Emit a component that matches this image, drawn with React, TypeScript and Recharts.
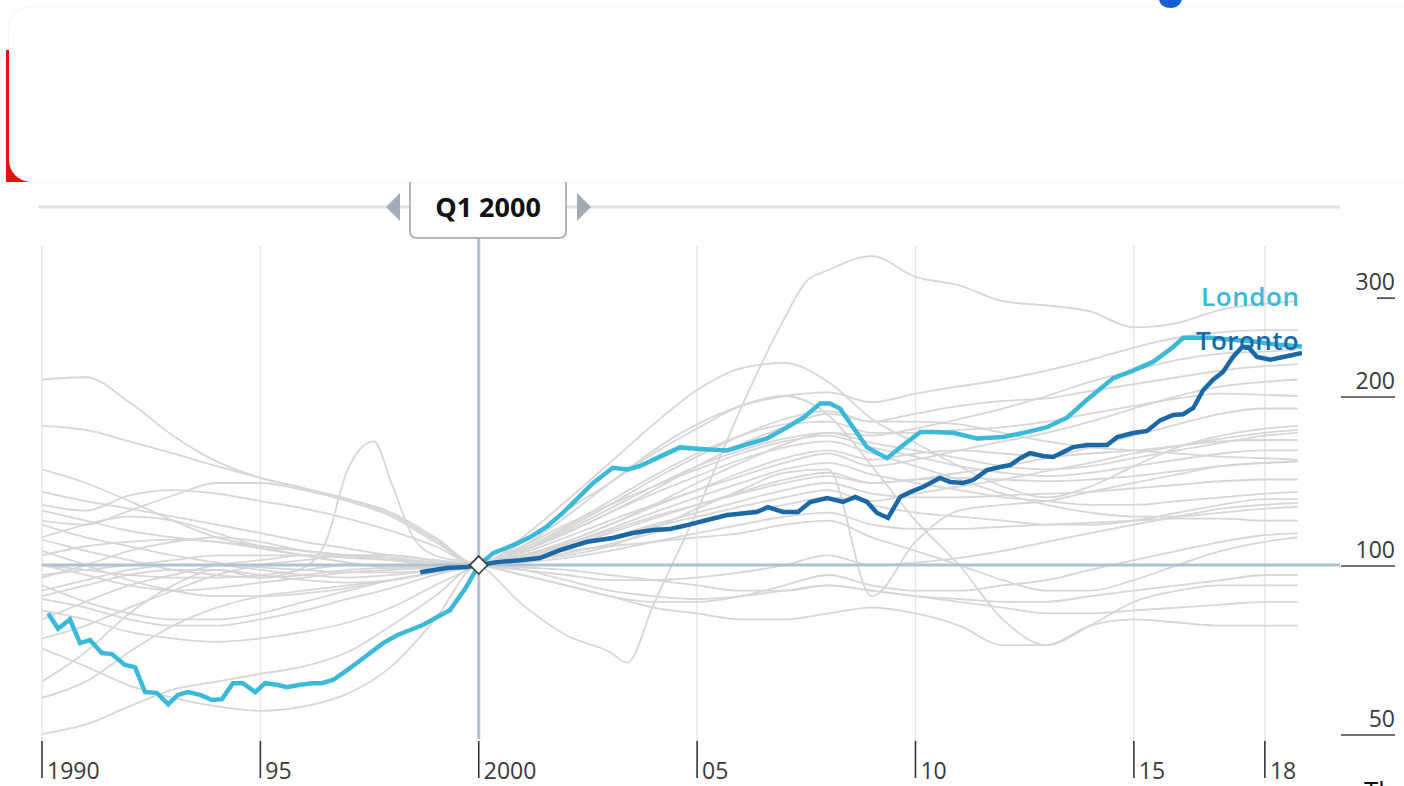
import React from "react";
import { LineChart, Line, XAxis, YAxis, ReferenceLine, ReferenceDot } from "recharts";

// quarterly-ish readings, index 2000 Q1 = 100
const LONDON_YEARS = [
  1990.14, 1990.37, 1990.64, 1990.87, 1991.1, 1991.37, 1991.6, 1991.9, 1992.13, 1992.36,
  1992.63, 1992.89, 1993.11, 1993.34, 1993.62, 1993.89, 1994.12, 1994.37, 1994.6, 1994.88,
  1995.11, 1995.38, 1995.61, 1995.91, 1996.18, 1996.41, 1996.66, 1996.89, 1997.21, 1997.51,
  1997.81, 1998.13, 1998.43, 1998.72, 1999.05, 1999.34, 1999.7, 2000, 2000.33, 2000.79,
  2001.17, 2001.56, 2001.93, 2002.16, 2002.62, 2003.07, 2003.4, 2003.69, 2004.15, 2004.61,
  2005.07, 2005.69, 2006.14, 2006.6, 2007.06, 2007.43, 2007.82, 2008.04, 2008.27, 2008.57,
  2008.89, 2009.35, 2009.65, 2010.11, 2010.4, 2010.86, 2011.41, 2012.01, 2012.55, 2013.01,
  2013.47, 2013.93, 2014.52, 2014.98, 2015.44, 2015.9, 2016.13, 2016.36, 2016.75, 2017.25,
  2017.75, 2018.25, 2018.85,
];
const LONDON = [
  82, 77, 80, 72.6, 73.5, 69.7, 69.4, 66.4, 65.8, 59.4,
  59.2, 56.5, 58.7, 59.4, 58.7, 57.5, 57.7, 61.6, 61.6, 59.4,
  61.6, 61.2, 60.6, 61.2, 61.6, 61.6, 62.4, 64.2, 66.9, 69.7,
  72.6, 75, 76.6, 78.2, 80.8, 83.1, 91, 100, 105, 108.5,
  112, 117, 124, 129, 140, 149, 148, 150, 156, 162,
  161, 160, 164, 168, 176, 183, 194, 194, 190, 176,
  162, 155, 162, 172.5, 172.5, 172, 168, 169, 172.5, 176,
  183, 197, 215, 222, 230, 244.5, 254, 254, 254, 252,
  250, 247, 245,
];

const TORONTO_YEARS = [
  1998.66, 1999.27, 1999.73, 2000, 2000.42, 2000.95, 2001.4, 2001.86, 2002.48, 2003.07,
  2003.53, 2003.99, 2004.38, 2004.77, 2005.23, 2005.69, 2006.14, 2006.37, 2006.62, 2006.97,
  2007.31, 2007.59, 2007.98, 2008.34, 2008.62, 2008.89, 2009.12, 2009.37, 2009.65, 2009.88,
  2010.17, 2010.56, 2010.79, 2011.09, 2011.32, 2011.64, 2011.94, 2012.17, 2012.4, 2012.62,
  2012.92, 2013.15, 2013.38, 2013.61, 2013.93, 2014.39, 2014.62, 2014.98, 2015.3, 2015.6,
  2015.9, 2016.13, 2016.36, 2016.59, 2016.82, 2017.04, 2017.27, 2017.48, 2017.62, 2017.82,
  2018.12, 2018.42, 2018.85,
];
const TORONTO = [
  97.1, 98.8, 99.2, 100, 101.2, 102, 102.9, 106.3, 110, 111.7,
  114, 115.4, 115.9, 117.8, 120.3, 122.8, 123.8, 124.3, 126.8, 124.3,
  124.3, 129.5, 131.6, 129.5, 132.2, 129.5, 123.8, 121.3, 132.2, 134.9,
  137.7, 142.9, 140.6, 140, 141.7, 147.6, 149.5, 150.7, 155, 158.3,
  156.4, 155.8, 158.9, 162.2, 163.6, 163.6, 169, 171.8, 173.3, 181,
  185, 185.6, 190.4, 205, 214, 220.7, 234.7, 244.5, 244.5, 234.7,
  232, 234.7, 238.6,
];

// the other cities, sampled yearly
const GREY_YEARS = [
  1990, 1991, 1992, 1993, 1994, 1995, 1996, 1997, 1998, 1999,
  2000, 2001, 2002, 2003, 2004, 2005, 2006, 2007, 2008, 2009,
  2010, 2011, 2012, 2013, 2014, 2015, 2016, 2017, 2018, 2018.75,
];
const GREY_A = [214,216,195,170,153,143,137,131,124,112,100,112,130,152,178,205,224,229,212,182,165,150,138,132,138,150,162,170,175,177];
const GREY_B = [177,174,166,158,150,143,137,131,123,111,100,108,122,140,160,178,192,200,203,195,202,208,214,222,232,244,254,260,262,262];
const GREY_C = [148,140,130,120,112,108,106,104,103,101,100,106,116,128,142,156,170,182,188,180,186,192,196,198,204,210,216,222,226,228];
const GREY_D = [128,125,133,136,134,130,126,121,115,108,100,104,110,118,127,136,146,155,160,154,158,160,158,156,158,160,163,166,167,167];
const GREY_E = [120,118,125,133,140,140,136,130,122,110,100,103,108,114,121,128,135,142,146,140,142,143,142,141,142,144,147,150,152,153];
const GREY_F = [111,106,102,98,96,95,96,98,99,100,100,106,114,124,136,150,164,176,186,180,180,178,172,166,162,160,158,156,155,154];
const GREY_G = [106,100,94,90,88,88,89,91,94,97,100,105,112,120,128,136,144,152,158,150,154,160,166,172,180,190,200,208,212,214];
const GREY_H = [100,96,92,90,91,93,95,97,98,99,100,102,105,109,114,119,124,128,132,130,134,138,142,147,152,158,163,168,172,174];
const GREY_I = [96,98,100,102,104,104,104,103,102,101,100,104,110,118,128,140,152,164,172,165,160,155,150,148,150,155,160,165,170,172];
const GREY_J = [92,86,82,80,80,82,86,90,94,97,100,106,114,124,134,144,154,162,166,158,150,142,134,128,124,122,122,124,126,127];
const GREY_K = [88,92,96,98,98,96,94,93,94,97,100,104,109,116,124,132,140,148,152,145,140,136,132,130,128,128,130,132,134,135];
const GREY_L = [87,84,80,78,78,80,83,87,91,96,100,104,108,112,117,122,127,132,136,128,124,122,120,118,118,120,124,128,131,131];
const GREY_M = [83,80,76,74,73,74,76,79,84,92,100,108,118,128,138,148,158,166,170,162,156,150,146,144,146,150,154,158,160,160];
const GREY_N = [80,86,92,96,100,102,104,104,104,102,100,98,96,94,94,95,97,100,104,100,101,103,106,110,114,118,122,126,128,129];
const GREY_O = [74,78,84,90,96,100,102,104,104,102,100,96,92,88,86,86,88,92,96,92,90,90,92,94,98,102,106,110,113,114];
const GREY_P = [71,66,61,58,56,55,56,59,66,80,100,98,94,90,88,87,88,90,92,90,88,86,84,82,82,83,84,85,86,86];
const GREY_Q = [58,62,70,78,84,88,90,92,94,97,100,103,106,108,110,112,114,118,120,112,106,100,94,90,90,94,100,106,110,112];
const GREY_R = [50,52,56,60,62,64,66,70,78,88,100,96,92,88,84,82,80,80,82,84,82,78,72,72,78,80,79,78,78,78];
const GREY_S = [95,100,106,110,112,110,106,104,102,100,100,102,104,108,116,126,136,146,148,88,110,125,128,130,135,140,145,150,152,153];
const GREY_T = [100,98,96,95,95,96,98,100,100,100,100,110,125,140,158,175,192,200,185,150,120,100,80,72,78,86,90,92,92,92];
const GREY_U = [125,120,115,112,110,108,106,104,102,101,100,99,98,96,94,92,90,90,92,90,88,87,86,86,88,90,92,94,96,96];
const GREY_V = [118,112,108,104,101,99,98,97,97,98,100,106,115,126,138,150,160,168,172,170,175,182,190,200,212,222,232,238,240,242];
const GREY_W = [135,130,126,122,118,114,110,107,104,102,100,107,117,130,144,158,170,178,180,172,172,174,176,180,186,192,198,202,201,200];
const GREY_X = [90,94,98,100,100,98,96,95,96,98,100,104,109,115,122,128,134,140,144,140,142,146,150,155,162,170,178,186,190,190];
const GREY_Y = [104,108,110,111,110,107,104,101,99,99,100,103,107,112,118,124,130,136,140,134,132,132,133,134,135,137,139,141,142,142];
const GREY_Z = [112,118,122,120,114,108,104,101,99,99,100,101,103,106,110,114,118,122,124,118,116,116,117,118,119,120,121,121,120,120];

// the one with the 1997 spike and the 2007 surge has its own dates
const SPIKE_YEARS = [
  1990, 1991, 1992, 1993, 1994, 1995, 1996, 1996.5, 1997, 1997.6, 1998, 1998.5, 1999, 2000,
  2001, 2002, 2003, 2003.4, 2004, 2005, 2006, 2007, 2007.5, 2008, 2009, 2010, 2011, 2012,
  2013, 2014, 2015, 2016, 2017, 2018, 2018.75,
];
const SPIKE = [
  62, 70, 82, 92, 98, 95, 99, 110, 148, 166, 140, 112, 104, 100,
  85, 75, 70, 67, 85, 125, 190, 275, 320, 335, 355, 326, 315, 295,
  290, 283, 265, 270, 285, 292, 295,
];

const GREY_LINES = [
  GREY_A, GREY_B, GREY_C, GREY_D, GREY_E, GREY_F, GREY_G, GREY_H, GREY_I, GREY_J, GREY_K, GREY_L, GREY_M,
  GREY_N, GREY_O, GREY_P, GREY_Q, GREY_R, GREY_S, GREY_T, GREY_U, GREY_V, GREY_W, GREY_X, GREY_Y, GREY_Z,
];

const X_TICKS = [1990, 1995, 2000, 2005, 2010, 2015, 2018];
const X_LABELS = ["1990", "95", "2000", "05", "10", "15", "18"];
const Y_TICKS = [50, 100, 200, 300];

const FONT = "'Open Sans', 'DejaVu Sans', sans-serif";
const GREY = "#d6d6d6";
const LONDON_COL = "#3cb9d6";
const TORONTO_COL = "#1a68a6";
const AXIS_BLUE = "#b2c2d2";
const TEXT_COL = "#3a3a3a";

const toPoints = (xs: number[], ys: number[]) => xs.map((x, i) => ({ x, y: ys[i] }));

const XTick = (props: any) => {
  const { x, payload } = props;
  const label = X_LABELS[X_TICKS.indexOf(payload.value)];
  return (
    <g>
      <line x1={x} x2={x} y1={741} y2={778} stroke="#333" strokeWidth={1.6} />
      <text x={x + 5} y={779} fontSize={23} fill={TEXT_COL} fontFamily={FONT}>
        {label}
      </text>
    </g>
  );
};

const YTick = (props: any) => {
  const { y, payload } = props;
  const short = payload.value === 300;
  return (
    <g>
      <text x={1395} y={y - 7} textAnchor="end" fontSize={23} fill={TEXT_COL} fontFamily={FONT}>
        {payload.value}
      </text>
      <line x1={short ? 1377 : 1341} x2={1395} y1={y + 1} y2={y + 1} stroke="#444" strokeWidth={1.6} />
    </g>
  );
};

const Diamond = (props: any) => {
  const { cx, cy } = props;
  const r = 9;
  return (
    <path
      d={`M${cx},${cy - r} L${cx + r},${cy} L${cx},${cy + r} L${cx - r},${cy} Z`}
      fill="#fff"
      stroke="#444"
      strokeWidth={1.8}
    />
  );
};

export default function App() {
  return (
    <div style={{ position: "absolute", left: 0, top: 0, width: 1404, height: 786, background: "#fff", overflow: "hidden" }}>
      <div style={{ position: "absolute", left: 0, top: 0 }}>
        <LineChart width={1404} height={786} margin={{ top: 246, right: 2, bottom: 0, left: 42 }}>
          <XAxis
            type="number"
            dataKey="x"
            domain={[1990, 2018.85]}
            ticks={X_TICKS}
            interval={0}
            height={42}
            axisLine={false}
            tickLine={false}
            tick={<XTick />}
            allowDataOverflow
          />
          <YAxis
            type="number"
            dataKey="y"
            scale="log"
            domain={[48, 370]}
            ticks={Y_TICKS}
            interval={0}
            orientation="right"
            width={100}
            axisLine={false}
            tickLine={false}
            tick={<YTick />}
            allowDataOverflow
          />
          {X_TICKS.filter((t) => t !== 2000).map((t) => (
            <ReferenceLine key={t} x={t} stroke="#e6e6e6" strokeWidth={1.5} />
          ))}
          {GREY_LINES.map((vals, i) => (
            <Line
              key={i}
              data={toPoints(GREY_YEARS, vals)}
              dataKey="y"
              type="monotone"
              stroke={GREY}
              strokeWidth={1.8}
              dot={false}
              isAnimationActive={false}
            />
          ))}
          <Line
            data={toPoints(SPIKE_YEARS, SPIKE)}
            dataKey="y"
            type="monotone"
            stroke={GREY}
            strokeWidth={1.8}
            dot={false}
            isAnimationActive={false}
          />
          <ReferenceLine
            segment={[{ x: 1990, y: 100 }, { x: 2019.72, y: 100 }]}
            stroke={AXIS_BLUE}
            strokeWidth={3}
            ifOverflow="visible"
          />
          <ReferenceLine
            segment={[{ x: 2000, y: 49 }, { x: 2000, y: 390 }]}
            stroke={AXIS_BLUE}
            strokeWidth={3}
            ifOverflow="visible"
          />
          <Line
            data={toPoints(LONDON_YEARS, LONDON)}
            dataKey="y"
            type="linear"
            stroke={LONDON_COL}
            strokeWidth={4.5}
            dot={false}
            isAnimationActive={false}
          />
          <Line
            data={toPoints(TORONTO_YEARS, TORONTO)}
            dataKey="y"
            type="linear"
            stroke={TORONTO_COL}
            strokeWidth={4.5}
            dot={false}
            isAnimationActive={false}
          />
          <ReferenceDot x={2000} y={100} r={9} shape={<Diamond />} ifOverflow="visible" />
        </LineChart>
      </div>

      <svg width={1404} height={786} style={{ position: "absolute", left: 0, top: 0, pointerEvents: "none" }}>
        {/* date selector strip */}
        <line x1={38} x2={1340} y1={207} y2={207} stroke="#dde2e7" strokeWidth={3} />
        <path d="M386,207 L400,193 L400,221 Z" fill="#a3acb4" />
        <path d="M591,207 L577,193 L577,221 Z" fill="#a3acb4" />
        <path
          d="M410,170 L410,231 Q410,238 417,238 L559,238 Q566,238 566,231 L566,170 Z"
          fill="#fff"
          stroke="#9aa3ab"
          strokeWidth={1.5}
        />
        <text x={488} y={217} textAnchor="middle" fontSize={27} fontWeight={700} fill="#111" fontFamily={FONT}>
          Q1 2000
        </text>
        <text x={1201} y={306} fontSize={26} fontWeight={600} fill={LONDON_COL} fontFamily={FONT} letterSpacing={0.6}>
          London
        </text>
        <text x={1196} y={350} fontSize={26} fontWeight={600} fill={TORONTO_COL} fontFamily={FONT} letterSpacing={0.4}>
          Toronto
        </text>
        <text x={1364} y={800} fontSize={26} fill="#111" fontFamily={FONT}>
          Th
        </text>
      </svg>

      {/* overlay card from the page above */}
      <div style={{ position: "absolute", left: 6, top: 50, width: 34, height: 132, background: "#e3120b" }} />
      <div
        style={{
          position: "absolute",
          left: 9,
          top: 7,
          width: 1420,
          height: 175,
          background: "#fff",
          borderRadius: 22,
          boxShadow: "0 0 2px rgba(0,0,0,0.12)",
        }}
      />
      <svg width={40} height={10} style={{ position: "absolute", left: 1155, top: 0 }}>
        <path d="M4,0 Q6,8 16,8 Q24,8 27,0 Z" fill="#1560d0" />
      </svg>
    </div>
  );
}
